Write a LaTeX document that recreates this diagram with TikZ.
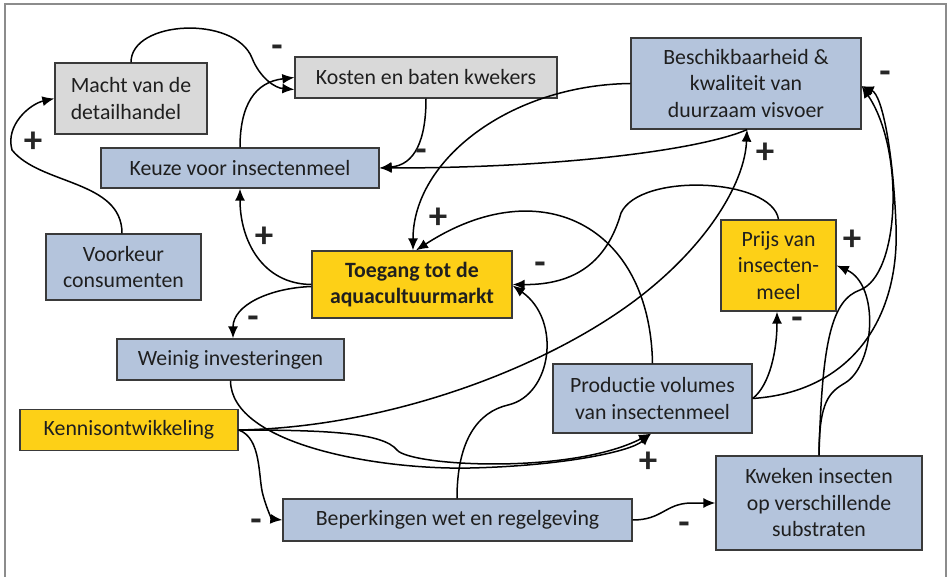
\documentclass[tikz,border=0pt]{standalone}
\usepackage{fontspec}
\setmainfont{Carlito}[Ligatures=NoCommon]
\usetikzlibrary{arrows.meta}
\definecolor{grijs}{HTML}{D9D9D9}
\definecolor{blauw}{HTML}{B4C4DC}
\definecolor{geel}{HTML}{FDD017}
\definecolor{rand}{HTML}{3A3A3A}
\definecolor{kader}{HTML}{8C8C8C}

\begin{document}
\begin{tikzpicture}[x=1pt,y=-1pt,
  vak/.style={draw=rand,line width=1.3pt,inner sep=0pt,align=center,
    font=\fontsize{21.8}{26.5}\selectfont,text=black!88},
  grijsvak/.style={vak,fill=grijs},
  blauwvak/.style={vak,fill=blauw},
  geelvak/.style={vak,fill=geel},
  link/.style={line width=1.5pt,-{Latex[length=12pt,width=10pt]}},
  teken/.style={font=\fontsize{37}{37}\selectfont\bfseries,inner sep=0pt,text=black!85}]
  \useasboundingbox (0,0) rectangle (951,577);
  \draw[kader,line width=1.5pt] (5,590) |- (946,4) -- (946,590);

  % factoren
  \node[grijsvak,minimum width=152pt,minimum height=71pt,align=left] (macht) at (131,98.5) {Macht van de\\detailhandel};
  \node[grijsvak,minimum width=262pt,minimum height=41pt] (kosten) at (426,77.5) {Kosten en baten kwekers};
  \node[blauwvak,minimum width=278pt,minimum height=40pt] (keuze) at (240,168) {Keuze voor insectenmeel};
  \node[blauwvak,minimum width=155pt,minimum height=66pt] (voorkeur) at (123.5,267) {Voorkeur\\consumenten};
  \node[geelvak,minimum width=200pt,minimum height=67pt,font=\fontsize{21.8}{26.5}\selectfont\bfseries] (toegang) at (412,284.5) {Toegang tot de\\aquacultuurmarkt};
  \node[blauwvak,minimum width=230pt,minimum height=91pt] (beschik) at (746,83.5) {Beschikbaarheid \&\\kwaliteit van\\duurzaam visvoer};
  \node[geelvak,minimum width=115pt,minimum height=91pt] (prijs) at (778.5,265.5) {Prijs van\\insecten-\\meel};
  \node[blauwvak,minimum width=227pt,minimum height=41pt] (weinig) at (230.5,359.5) {Weinig investeringen};
  \node[geelvak,minimum width=218pt,minimum height=41pt] (kennis) at (129,430) {Kennisontwikkeling};
  \node[blauwvak,minimum width=199pt,minimum height=69pt] (productie) at (652.5,398.5) {Productie volumes\\van insectenmeel};
  \node[blauwvak,minimum width=349pt,minimum height=42pt] (beperk) at (457.5,520) {Beperkingen wet en regelgeving};
  \node[blauwvak,minimum width=206pt,minimum height=94pt] (kweken) at (819,503) {Kweken insecten\\op verschillende\\substraten};

  % verbanden
  \draw[link] ([xshift=-1.5pt]voorkeur.north) .. controls (122,180) and (40,185) .. (12,150)
    .. controls (5,125) and (30,104) .. (macht.west);
  \draw[link] (macht.north) .. controls (131,20) and (235,15) .. (252,58)
    .. controls (260,78) and (275,88) .. ([yshift=-12pt]kosten.west);
  \draw[link] (keuze.north) .. controls (240,105) and (255,82) .. (kosten.west);
  \draw[link] (kosten.south) .. controls (426,140) and (415,165) .. (keuze.east);
  \draw[link] ([xshift=1pt]beschik.south) .. controls (700,150) and (560,168) .. (keuze.east);
  \draw[link] (beschik.west) .. controls (510,85) and (413,160) .. ([xshift=1pt]toegang.north);
  \draw[link] (productie.north) .. controls (650,225) and (540,170) .. ([xshift=4pt]toegang.north);
  \draw[link] (prijs.north) .. controls (772,178) and (640,172) .. (621,213)
    .. controls (607,262) and (575,285) .. (toegang.east);
  \draw[link] ([xshift=-0.5pt]beperk.north) .. controls (457,440) and (478,412) .. (508,405)
    .. controls (552,395) and (562,320) .. ([yshift=-1pt]toegang.east);
  \draw[link] (toegang.west) .. controls (262,284) and (240,240) .. (keuze.south);
  \draw[link] ([yshift=-2pt]toegang.west) .. controls (270,288) and (233,305) .. ([xshift=2.5pt]weinig.north);
  \draw[link] (weinig.south) .. controls (231,445) and (380,470) .. (470,468)
    .. controls (560,466) and (630,452) .. ([xshift=-1.5pt]productie.south);
  \draw[link] (kennis.east) .. controls (330,430) and (383,433) .. (397,450)
    .. controls (410,466) and (570,475) .. ([xshift=-1.5pt]productie.south);
  \draw[link] (kennis.east) .. controls (262,438) and (258,478) .. (263,495)
    .. controls (267,510) and (272,519) .. (beperk.west);
  \draw[link] (kennis.east) .. controls (400,427) and (565,360) .. (652,287)
    .. controls (712,237) and (745,180) .. ([xshift=1pt]beschik.south);
  \draw[link] (beperk.east) .. controls (662,520) and (665,504) .. (690,503) -- (kweken.west);
  \draw[link] (productie.east) .. controls (770,385) and (777,350) .. ([xshift=-1.5pt]prijs.south);
  \draw[link] (productie.east) .. controls (850,392) and (900,320) .. (896,225)
    .. controls (893,150) and (882,95) .. ([yshift=-2.5pt]beschik.east);
  \draw[link] (kweken.north) .. controls (819,400) and (830,392) .. (845,383)
    .. controls (875,365) and (880,285) .. (prijs.east);
  \draw[link] (kweken.north) .. controls (822,340) and (832,300) .. (860,290)
    .. controls (900,275) and (905,150) .. ([yshift=-2.5pt]beschik.east);

  % polariteiten
  \foreach \px/\py/\t [count=\i] in {33/142/+, 277/51/-, 421/155/-, 264/237/+, 253/322/-,
      438/218/+, 540/268/-, 765/153/+, 885/77/-, 852/240/+, 797/323/-, 648/462/+,
      256/525/-, 684/528/-}
    \node[teken] (sgn\i) at (\px,\py) {\t};
\end{tikzpicture}
\end{document}
